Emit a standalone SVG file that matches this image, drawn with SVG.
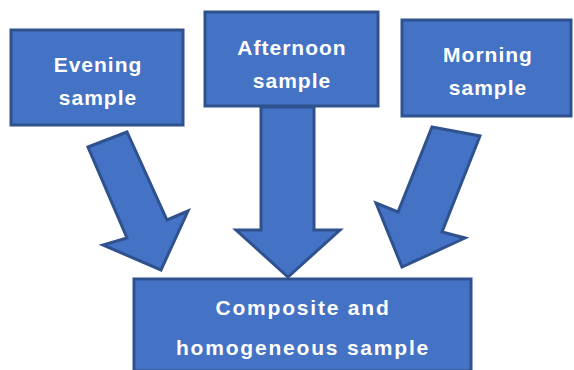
<svg xmlns="http://www.w3.org/2000/svg" width="574" height="370" viewBox="0 0 574 370">
<style>
.box{fill:#4472C4;stroke:#2F528F;stroke-width:3}
.arr{fill:#4472C4;stroke:#2F528F;stroke-width:3;stroke-linejoin:miter}
.t{fill:#ffffff;font-family:"Liberation Sans",Arial,sans-serif;font-weight:bold;font-size:21px;letter-spacing:1px;text-anchor:middle}
.w{letter-spacing:1.8px}
</style>
<rect width="574" height="370" fill="#ffffff"/>
<g id="connectors">
<polygon class="arr" points="261,107 314,107 314,230 340,230 288,277 236,230 261,230"/>
<polygon class="arr" points="88,147 127,132 167,220 188,211 161,270 103,245 127,238"/>
<polygon class="arr" points="432,127 480,136 442,232 465,238 402,267 376,203 398,212"/>
</g>
<g id="evening">
<rect class="box" x="11" y="30" width="172" height="95"/>
<text class="t" x="98" y="72">Evening</text>
<text class="t" x="98" y="105">sample</text>
</g>
<g id="afternoon">
<rect class="box" x="205" y="12" width="173" height="94"/>
<text class="t" x="292" y="55">Afternoon</text>
<text class="t" x="292" y="88">sample</text>
</g>
<g id="morning">
<rect class="box" x="402" y="20" width="169" height="96"/>
<text class="t" x="488" y="62">Morning</text>
<text class="t" x="488" y="95">sample</text>
</g>
<g id="composite">
<rect class="box" x="134" y="279" width="337" height="92"/>
<text class="t w" x="303" y="315">Composite and</text>
<text class="t w" x="303" y="355">homogeneous sample</text>
</g>
</svg>
